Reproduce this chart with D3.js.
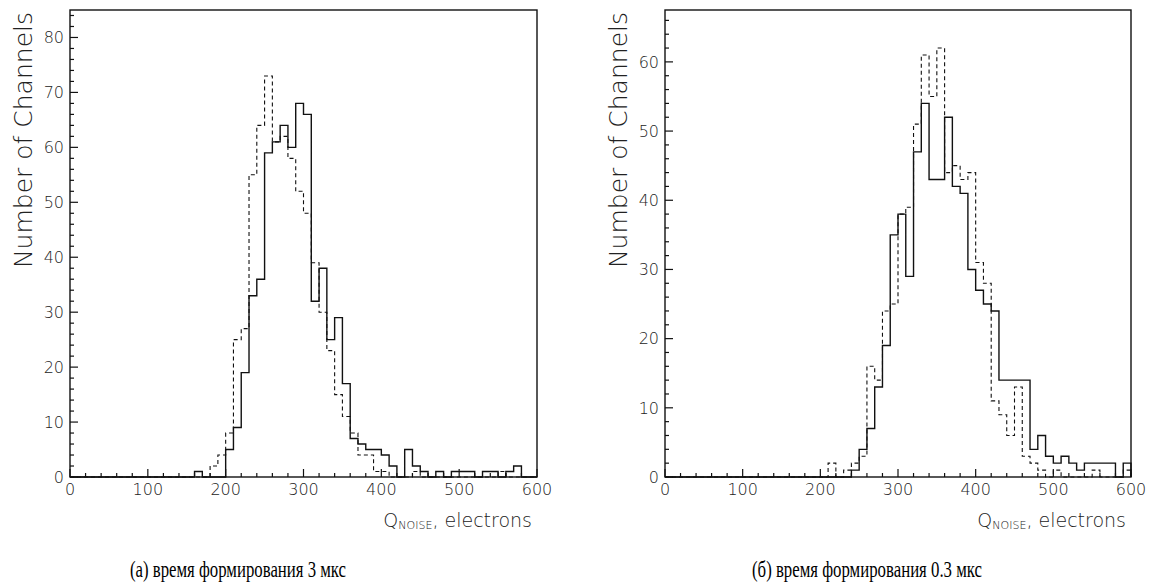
<!DOCTYPE html>
<html>
<head>
<meta charset="utf-8">
<script src="https://cdn.jsdelivr.net/npm/d3@7"></script>
<style>
  html, body { margin: 0; padding: 0; background: #fff; }
  svg { display: block; }
  .tick-label { font-family: "DejaVu Sans", sans-serif; font-weight: 200; font-size: 16px; fill: #222; }
  .axis-title { font-family: "DejaVu Sans", sans-serif; font-weight: 200; fill: #222; }
  .caption { font-family: "Liberation Serif", "Times New Roman", serif; font-size: 24px; fill: #000; }
</style>
</head>
<body>
<svg id="chart" width="1156" height="588"></svg>
<script>
// Noise histograms: 10-electron bins from 0 to 600 electrons.
const binStarts = d3.range(0, 600, 10);

// (a) shaping time 3 us — counts per bin (index = bin start / 10)
const shaping3Solid = [
  0,0,0,0,0, 0,0,0,0,0, 0,0,0,0,0, 0,1,0,0,0,
  5,9,19,33,36, 59,61,64,60,68, 66,32,38,25,29, 17,7,6,5,5,
  4,2,0,5,2, 1,0,1,0,1, 1,1,0,1,1, 0,1,2,0,0
];
const shaping3Dashed = [
  0,0,0,0,0, 0,0,0,0,0, 0,0,0,0,0, 0,0,0,2,4,
  8,25,27,55,64, 73,61,62,58,52, 48,39,30,23,15, 11,8,4,4,1,
  1,0,0,0,1, 0,0,0,0,0, 0,0,0,0,0, 1,0,0,0,0
];

// (б) shaping time 0.3 us
const shaping03Solid = [
  0,0,0,0,0, 0,0,0,0,0, 0,0,0,0,0, 0,0,0,0,0,
  0,0,0,0,1, 4,7,13,19,35, 38,29,47,54,43, 43,52,42,41,30,
  27,25,24,14,14, 14,14,4,6,3, 2,3,2,1,2, 2,2,2,0,2
];
const shaping03Dashed = [
  0,0,0,0,0, 0,0,0,0,0, 0,0,0,0,0, 0,0,0,0,0,
  0,2,0,1,2, 3,16,14,24,25, 38,39,51,61,55, 62,44,45,43,44,
  31,28,11,9,6, 13,3,2,1,0, 1,0,0,0,0, 1,0,0,0,1
];

const xTickLabels = [0, 100, 200, 300, 400, 500, 600];
const yTickLabelsA = [0, 10, 20, 30, 40, 50, 60, 70, 80];
const yTickLabelsB = [0, 10, 20, 30, 40, 50, 60];

const yTitle = "Number of Channels";
const captions = ["(а) время формирования 3 мкс", "(б) время формирования 0.3 мкс"];

const panels = [
  { left: 70,  right: 537,  yMax: 85,   solid: shaping3Solid,  dashed: shaping3Dashed,
    yTicks: yTickLabelsA, caption: captions[0], captionX: 238, captionLen: 216 },
  { left: 665, right: 1131, yMax: 67.5, solid: shaping03Solid, dashed: shaping03Dashed,
    yTicks: yTickLabelsB, caption: captions[1], captionX: 867, captionLen: 230 }
];

const plotTop = 10, plotBottom = 477;
const svg = d3.select("#chart");
const ink = "#111";

// Outline of a histogram as a step path that starts and ends on the baseline.
function stepPoints(counts) {
  const pts = [[binStarts[0], 0]];
  counts.forEach((c, i) => {
    pts.push([binStarts[i], c]);
    pts.push([binStarts[i] + 10, c]);
  });
  pts.push([600, 0]);
  return pts;
}

panels.forEach(p => {
  const x = d3.scaleLinear().domain([0, 600]).range([p.left, p.right]);
  const y = d3.scaleLinear().domain([0, p.yMax]).range([plotBottom, plotTop]);
  const g = svg.append("g");

  const line = d3.line().x(d => x(d[0])).y(d => y(d[1]));

  // dashed histogram first, solid on top
  g.append("path")
    .attr("d", line(stepPoints(p.dashed)))
    .attr("fill", "none").attr("stroke", ink).attr("stroke-width", 1.1)
    .attr("stroke-dasharray", "4,3");
  g.append("path")
    .attr("d", line(stepPoints(p.solid)))
    .attr("fill", "none").attr("stroke", ink).attr("stroke-width", 1.4);

  // frame
  g.append("rect")
    .attr("x", p.left).attr("y", plotTop)
    .attr("width", p.right - p.left).attr("height", plotBottom - plotTop)
    .attr("fill", "none").attr("stroke", ink).attr("stroke-width", 1.4);

  // x ticks (inward), major every 100, minor every 20
  d3.range(0, 601, 20).forEach(v => {
    const major = v % 100 === 0;
    g.append("line")
      .attr("x1", x(v)).attr("x2", x(v))
      .attr("y1", plotBottom).attr("y2", plotBottom - (major ? 8 : 4))
      .attr("stroke", ink).attr("stroke-width", 1.2);
  });
  g.selectAll(".xlab").data(xTickLabels).enter().append("text")
    .attr("class", "tick-label")
    .attr("x", d => x(d)).attr("y", plotBottom + 18)
    .attr("text-anchor", "middle")
    .text(d => d);

  // y ticks (inward), major every 10, minor every 2
  d3.range(0, Math.floor(p.yMax) + 1, 2).forEach(v => {
    const major = v % 10 === 0;
    g.append("line")
      .attr("x1", p.left).attr("x2", p.left + (major ? 8 : 4))
      .attr("y1", y(v)).attr("y2", y(v))
      .attr("stroke", ink).attr("stroke-width", 1.2);
  });
  g.selectAll(".ylab").data(p.yTicks).enter().append("text")
    .attr("class", "tick-label")
    .attr("x", p.left - 6).attr("y", d => y(d))
    .attr("dy", "0.36em")
    .attr("text-anchor", "end")
    .text(d => d);

  // y axis title, rotated, aligned to the top of the frame
  g.append("text")
    .attr("class", "axis-title")
    .attr("font-size", 25)
    .attr("transform", `translate(${p.left - 38},${plotTop + 2}) rotate(-90)`)
    .attr("text-anchor", "end")
    .text(yTitle);

  // x axis title, right-aligned to the frame
  const xt = g.append("text")
    .attr("class", "axis-title")
    .attr("x", p.right - 5).attr("y", plotBottom + 50)
    .attr("text-anchor", "end")
    .attr("font-size", 19);
  xt.append("tspan").text("Q");
  xt.append("tspan").attr("font-size", 11).attr("dy", 2).text("NOISE");
  xt.append("tspan").attr("dy", -2).text(", electrons");

  // caption below the panel (narrow serif)
  svg.append("text")
    .attr("class", "caption")
    .attr("x", p.captionX).attr("y", 577)
    .attr("text-anchor", "middle")
    .attr("textLength", p.captionLen)
    .attr("lengthAdjust", "spacingAndGlyphs")
    .text(p.caption);
});
</script>
</body>
</html>
